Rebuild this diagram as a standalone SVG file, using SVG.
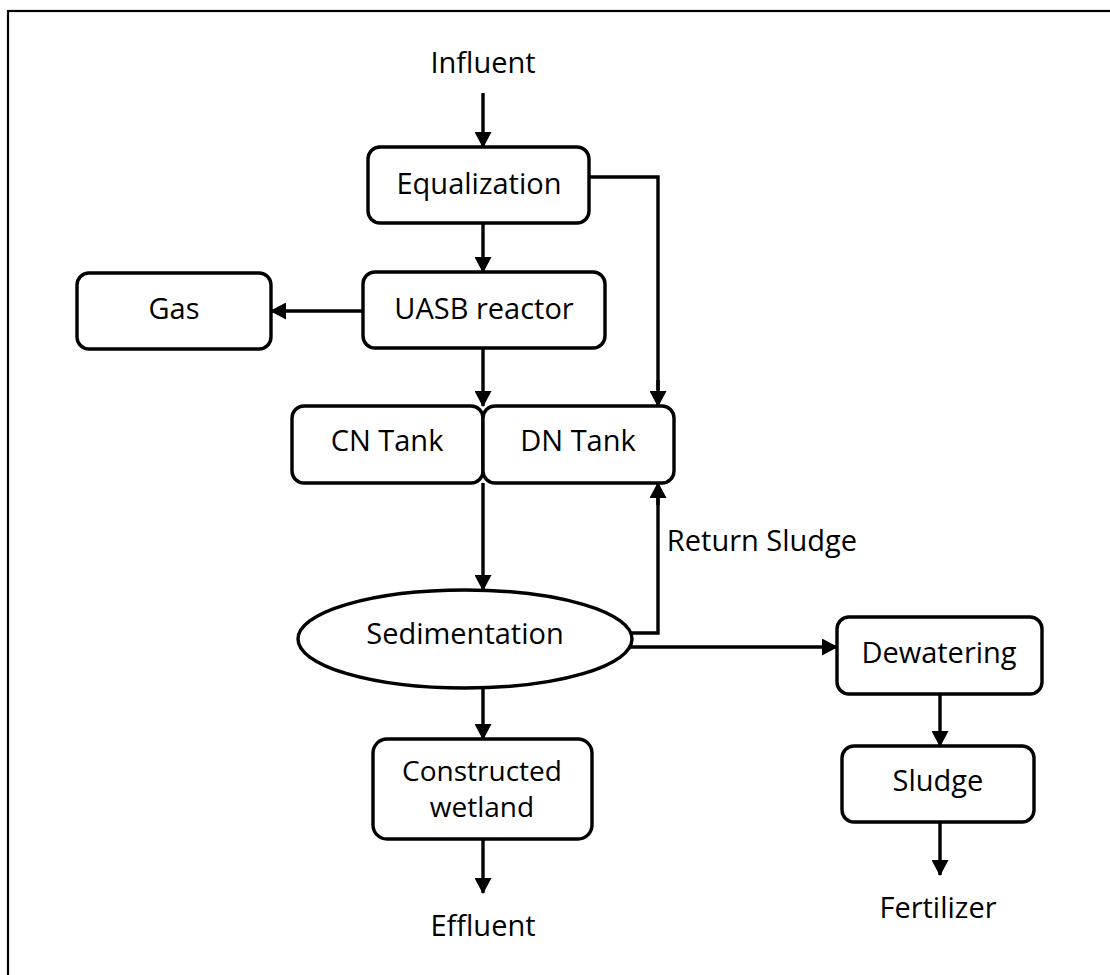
<svg xmlns="http://www.w3.org/2000/svg" width="1110" height="975" viewBox="0 0 1110 975">
  <style>
    .box { fill: #ffffff; stroke: #000000; stroke-width: 3.4; }
    .lbl { font-family: "Open Sans", "Liberation Sans", sans-serif; font-size: 29px; fill: #000000; text-anchor: middle; }
    .lbl2 { font-family: "Open Sans", "Liberation Sans", sans-serif; font-size: 28px; fill: #000000; text-anchor: middle; }
    .wire { fill: none; stroke: #000000; stroke-width: 3.4; }
    .arrow { fill: none; stroke: #000000; stroke-width: 3.4; marker-end: url(#head); }
  </style>
  <defs>
    <marker id="head" markerUnits="userSpaceOnUse" markerWidth="17" markerHeight="17" refX="15" refY="8.5" orient="auto">
      <path d="M0,0 L16,8.5 L0,17 Z" fill="#000000"/>
    </marker>
  </defs>

  <rect x="0" y="0" width="1110" height="975" fill="#ffffff"/>
  <!-- outer frame -->
  <rect x="8" y="11" width="1110" height="980" fill="none" stroke="#000000" stroke-width="2.2"/>

  <!-- connectors -->
  <g id="connectors">
    <path class="arrow" d="M483,93 L483,147"/>
    <path class="arrow" d="M483,223 L483,272"/>
    <path class="wire" d="M589,177 L658,177 L658,390"/>
    <path class="arrow" d="M658,380 L658,406"/>
    <path class="arrow" d="M363,311 L271,311"/>
    <path class="arrow" d="M483,348 L483,406"/>
    <path class="arrow" d="M483,483 L483,590"/>
    <path class="wire" d="M629,633 L658,633 L658,495"/>
    <path class="arrow" d="M658,505 L658,483"/>
    <path class="arrow" d="M630,647 L837,647"/>
    <path class="arrow" d="M483,688 L483,739"/>
    <path class="arrow" d="M483,839 L483,893"/>
    <path class="arrow" d="M940,694 L940,746"/>
    <path class="arrow" d="M940,822 L940,875"/>
  </g>

  <g id="influent">
    <text class="lbl" x="483" y="73">Influent</text>
  </g>

  <g id="equalization">
    <rect class="box" x="368" y="147" width="221" height="76" rx="12"/>
    <text class="lbl" x="479" y="194">Equalization</text>
  </g>

  <g id="uasb">
    <rect class="box" x="363" y="272" width="242" height="76" rx="12"/>
    <text class="lbl" x="484" y="319">UASB reactor</text>
  </g>

  <g id="gas">
    <rect class="box" x="77" y="273" width="194" height="76" rx="12"/>
    <text class="lbl" x="174" y="319">Gas</text>
  </g>

  <g id="cn-tank">
    <rect class="box" x="292" y="406" width="191" height="77" rx="12"/>
    <text class="lbl" x="387" y="451">CN Tank</text>
  </g>

  <g id="dn-tank">
    <rect class="box" x="483" y="406" width="191" height="77" rx="12"/>
    <text class="lbl" x="578" y="451">DN Tank</text>
  </g>

  <g id="return-sludge">
    <text class="lbl" x="762" y="551">Return Sludge</text>
  </g>

  <g id="sedimentation">
    <ellipse class="box" cx="465" cy="639" rx="167" ry="49"/>
    <text class="lbl" x="465" y="644">Sedimentation</text>
  </g>

  <g id="dewatering">
    <rect class="box" x="837" y="617" width="205" height="77" rx="12"/>
    <text class="lbl" x="939" y="663">Dewatering</text>
  </g>

  <g id="sludge">
    <rect class="box" x="842" y="746" width="192" height="76" rx="12"/>
    <text class="lbl" x="938" y="791">Sludge</text>
  </g>

  <g id="fertilizer">
    <text class="lbl" x="938" y="918">Fertilizer</text>
  </g>

  <g id="wetland">
    <rect class="box" x="373" y="739" width="219" height="100" rx="14"/>
    <text class="lbl2" x="482" y="781">Constructed</text>
    <text class="lbl2" x="482" y="817">wetland</text>
  </g>

  <g id="effluent">
    <text class="lbl" x="483" y="936">Effluent</text>
  </g>
</svg>
